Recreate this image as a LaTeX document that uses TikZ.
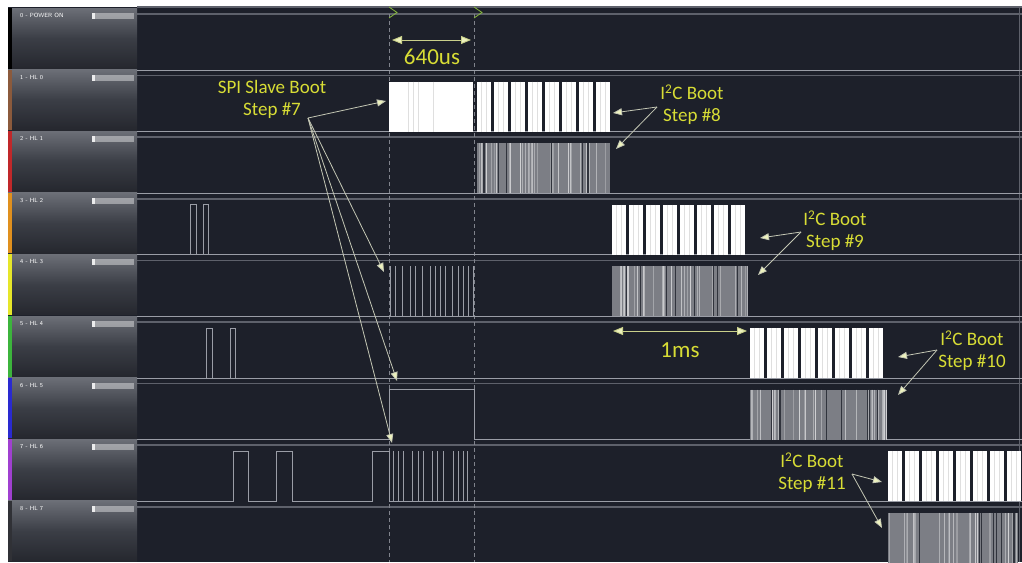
\documentclass[tikz,border=0pt]{standalone}
\usepackage{fontspec}
\newfontfamily\callfont{Carlito}
\usetikzlibrary{arrows.meta}

\definecolor{scopebg}{HTML}{1D202A}
\definecolor{sepgray}{HTML}{5E616B}
\definecolor{tracegray}{HTML}{9A9DA6}
\definecolor{panelhi}{HTML}{6C6F77}
\definecolor{panelmid}{HTML}{3B3E46}
\definecolor{panello}{HTML}{25272E}
\definecolor{bootyellow}{HTML}{D8DD35}
\definecolor{calline}{HTML}{C4C7B4}
\definecolor{spanline}{HTML}{C9D08A}
\definecolor{headfill}{HTML}{EDF2BE}
\definecolor{cursorgray}{HTML}{80838C}
\definecolor{markgreen}{HTML}{86B83C}
\definecolor{burstgray}{HTML}{7C7E85}
\definecolor{chbrown}{HTML}{8B5A3C}
\definecolor{chred}{HTML}{C0282A}
\definecolor{chorange}{HTML}{E0901E}
\definecolor{chyellow}{HTML}{E6E62A}
\definecolor{chgreen}{HTML}{3CB43C}
\definecolor{chblue}{HTML}{2A2AD0}
\definecolor{chviolet}{HTML}{A040D0}
\definecolor{chgray}{HTML}{303136}

\begin{document}
\begin{tikzpicture}[
  x=1pt, y=-1pt,
  sep/.style={draw=sepgray, line width=1.5pt},
  trace/.style={draw=tracegray, line width=0.9pt},
  cursor/.style={draw=cursorgray, line width=0.8pt, dash pattern=on 4pt off 3pt},
  panel/.style={top color=panelhi, bottom color=panello, middle color=panelmid},
  chname/.style={font=\sffamily\fontsize{6}{7}\selectfont, text=white!60, anchor=west, inner sep=0pt},
  boot/.style={font=\callfont\fontsize{19}{22}\selectfont, text=bootyellow, align=center, inner sep=1pt},
  span/.style={font=\callfont\fontsize{23}{26}\selectfont, text=bootyellow, inner sep=1pt},
  callout/.style={draw=calline, line width=0.8pt, -{Triangle[length=9pt, width=7pt, fill=headfill]}},
  spanarrow/.style={draw=spanline, line width=0.9pt,
    {Triangle[length=10pt, width=8pt, fill=headfill]}-{Triangle[length=10pt, width=8pt, fill=headfill]}},
  hairline/.style={draw=gray!25, line width=0.6pt},
]
  \clip (0,0) rectangle (1022,562);
  \fill[white] (0,0) rectangle (1022,562);
  \fill[scopebg] (8,7) rectangle (1022,562);

  % channel panels and separators
  \foreach \i/\col/\name in {0/black/POWER ON, 1/chbrown/HL 0, 2/chred/HL 1,
      3/chorange/HL 2, 4/chyellow/HL 3, 5/chgreen/HL 4, 6/chblue/HL 5,
      7/chviolet/HL 6, 8/chgray/HL 7} {
    \pgfmathsetmacro\T{14+61.6*\i}
    \shade[panel] (8,\T-6) rectangle (137,\T+54.5);
    \fill[\col] (8,\T-6) rectangle (12,\T+54.5);
    \node[chname] (ch\i) at (20,\T+1.5) {\i\ - \name};
    \fill[white!75, opacity=0.4] (92,\T-1) rectangle (134,\T+5);
    \fill[white!90, opacity=0.8] (92,\T-1) rectangle (95,\T+5);
    \draw[sep] (137,\T) -- (1022,\T);
  }
  \draw[sep] (137,7) -- (1022,7);
  \draw[sepgray, line width=1pt] (1019,7) -- (1019,562);

  % cursors
  \draw[cursor] (389,14) -- (389,562);
  \draw[cursor] (474,14) -- (474,562);
  \draw[markgreen, line width=0.8pt] (389,7) -- (397,12.5) -- (389,18);
  \draw[markgreen, line width=0.8pt] (474,7) -- (482,12.5) -- (474,18);

  % low levels
  \foreach \i in {1,2,3,4,5,6} {
    \pgfmathsetmacro\T{14+61.6*\i}
    \draw[trace] (137,\T-5.6) -- (1022,\T-5.6);
  }
  \draw[trace] (137,439.6) -- (389,439.6) -- (389,389.6) -- (474,389.6)
    -- (474,439.6) -- (1022,439.6);
  \draw[trace] (137,501.2) -- (233,501.2) -- (233,451.2) -- (248,451.2)
    -- (248,501.2) -- (276,501.2) -- (276,451.2) -- (292,451.2)
    -- (292,501.2) -- (372,501.2) -- (372,451.2) -- (389,451.2)
    -- (389,501.2) -- (1022,501.2);

  % single pulses
  \draw[trace] (190,204.8) rectangle (196,254.8);
  \draw[trace] (203,204.8) rectangle (208,254.8);
  \draw[trace] (206,328) rectangle (212,378);
  \draw[trace] (230,328) rectangle (235,378);

  % SPI traffic
  \foreach \xx in {390,395,402,410,415,422,430,435,440,445,452,458,463,468,473}
    \draw[trace] (\xx,266.4) -- (\xx,316.4);
  \foreach \xx in {393,398,403,412,418,423,432,437,443,453,458,463,467}
    \draw[trace] (\xx,451.2) -- (\xx,501.2);
  \fill[white] (389,81.6) rectangle (473,131.6);
  \foreach \xx in {408,413,418,433}
    \draw[hairline] (\xx,81.6) -- (\xx,131.6);

  % I2C clock lines
  \foreach \xa/\yt in {477/81.6, 612/204.8, 750/328, 888/451.2} {
    \foreach \j in {0,...,7} {
      \fill[white] (\xa+17*\j,\yt) rectangle +(14,50);
      \draw[hairline] (\xa+17*\j+4,\yt) -- +(0,50);
      \draw[hairline] (\xa+17*\j+9.5,\yt) -- +(0,50);
    }
  }

  % I2C data lines
  \pgfmathsetseed{42}
  \foreach \xa/\xb/\yt in {477/610/143.2, 612/748/266.4, 750/887/389.6, 888/1018/512.8} {
    \fill[burstgray] (\xa,\yt) rectangle (\xb,\yt+50);
    \foreach \k in {1,...,34} {
      \pgfmathsetmacro\xx{\xa+(\xb-\xa)*rnd}
      \pgfmathtruncatemacro\sh{20+45*rnd}
      \draw[line width=0.9pt, white!\sh!burstgray] (\xx,\yt) -- (\xx,\yt+50);
    }
    \foreach \k in {1,...,8} {
      \pgfmathsetmacro\xx{\xa+3+(\xb-\xa-6)*rnd}
      \draw[line width=1pt, scopebg!80!burstgray] (\xx,\yt) -- (\xx,\yt+50);
    }
  }

  % timing marks
  \coordinate (t640a) at (392,40);
  \coordinate (t640b) at (471,40);
  \draw[spanarrow] (t640a) -- (t640b);
  \node[span] (t640) at (432,57) {640us};
  \coordinate (t1msa) at (613,331);
  \coordinate (t1msb) at (747,331);
  \draw[spanarrow] (t1msa) -- (t1msb);
  \node[span] (t1ms) at (680,350) {1ms};

  % SPI slave boot
  \node[boot] (spi) at (272,99) {SPI Slave Boot\\Step \#7};
  \coordinate (spit) at (308,118);
  \coordinate (spih1) at (386,101);
  \coordinate (spih4) at (384,272);
  \coordinate (spih6) at (397,381);
  \coordinate (spih7) at (392,443);
  \foreach \h in {spih1,spih4,spih6,spih7}
    \draw[callout] (spit) -- (\h);

  % I2C boot steps
  \node[boot] (i2c8) at (692,105) {I\textsuperscript{2}C Boot\\Step \#8};
  \coordinate (i2c8t) at (657,107);
  \coordinate (i2c8a) at (613,113);
  \coordinate (i2c8b) at (616,149);
  \draw[callout] (i2c8t) -- (i2c8a);
  \draw[callout] (i2c8t) -- (i2c8b);

  \node[boot] (i2c9) at (835,231) {I\textsuperscript{2}C Boot\\Step \#9};
  \coordinate (i2c9t) at (801,232);
  \coordinate (i2c9a) at (760,238);
  \coordinate (i2c9b) at (758,275);
  \draw[callout] (i2c9t) -- (i2c9a);
  \draw[callout] (i2c9t) -- (i2c9b);

  \node[boot] (i2c10) at (972,351) {I\textsuperscript{2}C Boot\\Step \#10};
  \coordinate (i2c10t) at (937,350);
  \coordinate (i2c10a) at (898,357);
  \coordinate (i2c10b) at (898,395);
  \draw[callout] (i2c10t) -- (i2c10a);
  \draw[callout] (i2c10t) -- (i2c10b);

  \node[boot] (i2c11) at (812,473) {I\textsuperscript{2}C Boot\\Step \#11};
  \coordinate (i2c11t) at (852,474);
  \coordinate (i2c11a) at (882,482);
  \coordinate (i2c11b) at (882,528);
  \draw[callout] (i2c11t) -- (i2c11a);
  \draw[callout] (i2c11t) -- (i2c11b);
\end{tikzpicture}
\end{document}
